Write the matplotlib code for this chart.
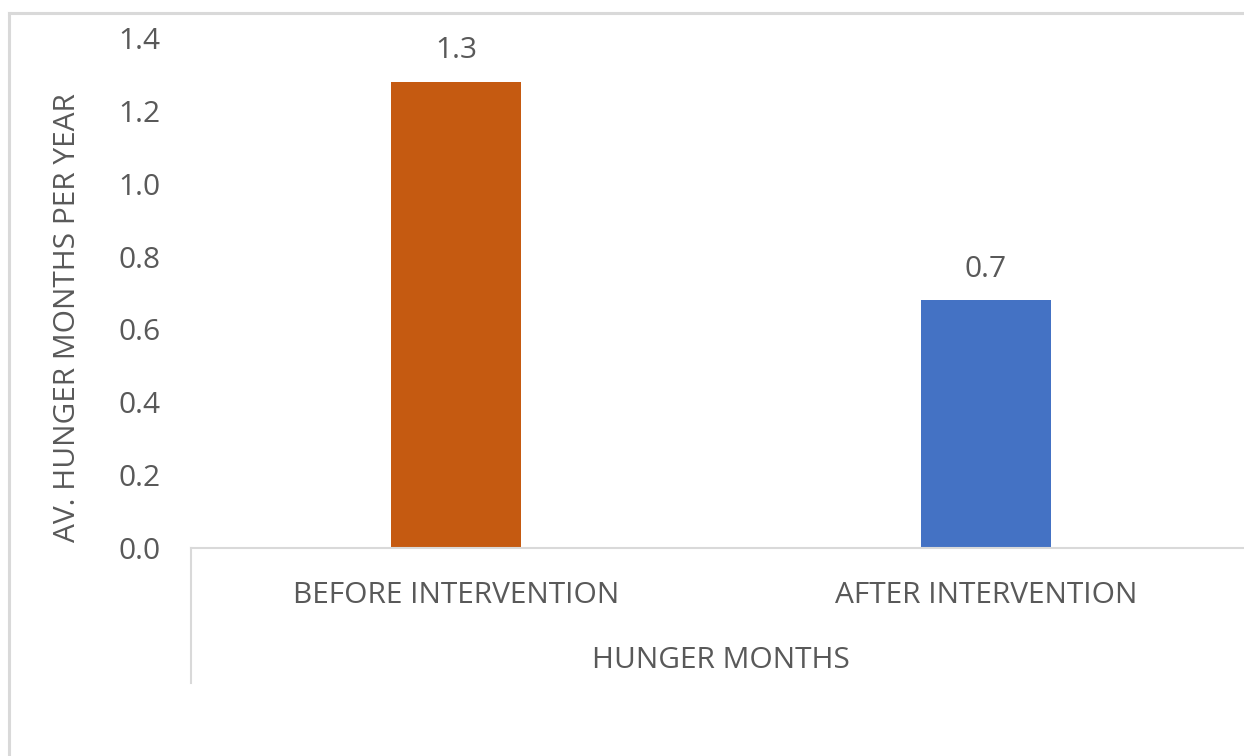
import matplotlib.pyplot as plt
from matplotlib.lines import Line2D

# Data
categories = ["BEFORE INTERVENTION", "AFTER INTERVENTION"]
values = [1.28, 0.68]
value_labels = ["1.3", "0.7"]
bar_colors = ["#C55A11", "#4472C4"]
y_ticks = [0.0, 0.2, 0.4, 0.6, 0.8, 1.0, 1.2, 1.4]

text_color = "#595959"
line_color = "#D9D9D9"
fs = 21.5

plt.rcParams['font.family'] = ['Open Sans', 'DejaVu Sans']

W, H = 1244, 756
fig = plt.figure(figsize=(W / 100, H / 100), dpi=100)

# Plot area in pixel terms
left_px, right_px, top_px, bottom_px = 191, 1251, 38, 548
ax = fig.add_axes([left_px / W, 1 - bottom_px / H,
                   (right_px - left_px) / W, (bottom_px - top_px) / H])

x = range(len(categories))
ax.bar(x, values, width=0.245, color=bar_colors, zorder=2)

# Data labels
for xi, v, lab in zip(x, values, value_labels):
    ax.annotate(lab, (xi, v), xytext=(0, 12), textcoords="offset points",
                ha="center", va="bottom", fontsize=fs, color=text_color)

ax.set_xlim(-0.5, 1.5)
ax.set_ylim(0, 1.4)
ax.set_yticks(y_ticks)
ax.set_yticklabels([f"{t:.1f}" for t in y_ticks])
ax.set_xticks(list(x))
ax.set_xticklabels(categories)

ax.tick_params(axis="y", length=0, pad=22, labelsize=fs, labelcolor=text_color)
ax.tick_params(axis="x", length=0, pad=24, labelsize=fs, labelcolor=text_color)

for s in ["top", "right", "left"]:
    ax.spines[s].set_visible(False)
ax.spines["bottom"].set_color(line_color)
ax.spines["bottom"].set_linewidth(1.5)

# Multi-level axis left divider
ax.add_line(Line2D([0, 0], [0, -(683 - 548) / (bottom_px - top_px)],
                   transform=ax.transAxes, color=line_color, lw=1.5,
                   clip_on=False))

# Axis titles
fig.text(721 / W, 1 - 661 / H, "HUNGER MONTHS", ha="center", va="center",
         fontsize=fs, color=text_color)
fig.text(68 / W, 1 - 318 / H, "AV. HUNGER MONTHS PER YEAR", ha="center",
         va="center", rotation=90, fontsize=fs, color=text_color)

# Chart border (top and left visible)
fig.add_artist(Line2D([8.5 / W, 8.5 / W], [0, 1 - 12.5 / H],
                      transform=fig.transFigure, color=line_color, lw=2.2))
fig.add_artist(Line2D([8.5 / W, 1], [1 - 12.5 / H, 1 - 12.5 / H],
                      transform=fig.transFigure, color=line_color, lw=2.2))

fig.savefig("out.png", dpi=100)
